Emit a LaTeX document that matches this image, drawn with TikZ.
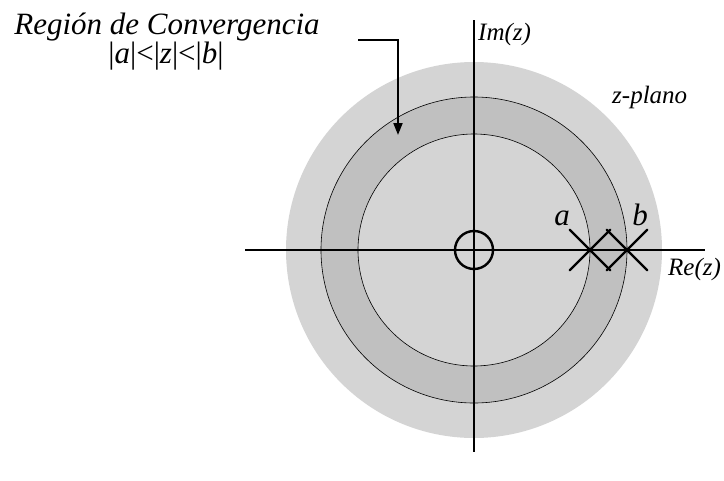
\documentclass[tikz,border=0pt]{standalone}
\usepackage{fontspec}
\setmainfont{Liberation Serif}
\usetikzlibrary{arrows.meta, shapes.misc}
\definecolor{discgray}{RGB}{212,212,212}
\definecolor{ringgray}{RGB}{192,192,192}
\tikzstyle{eje} = [line width=2.4pt]
\tikzstyle{borde} = [line width=0.6pt]
\tikzstyle{polo} = [cross out, draw, line width=2.4pt, line cap=round, minimum size=38pt, inner sep=0pt]
\tikzstyle{cero} = [circle, draw, line width=2.4pt, minimum size=38pt, inner sep=0pt]
\tikzstyle{etiqueta} = [font=\fontsize{25}{30}\selectfont\itshape, inner sep=0pt]
\tikzstyle{titulo} = [font=\fontsize{31}{36}\selectfont\itshape, inner sep=0pt]
\tikzstyle{arrow} = [line width=2pt, -{Triangle[length=12pt,width=9pt]}]

\begin{document}
\begin{tikzpicture}[x=1pt, y=-1pt]
  \useasboundingbox (0,0) rectangle (724,480);
  \coordinate (origen) at (474,250);
  % regiones
  \fill[discgray] (origen) circle (188);
  \fill[ringgray] (origen) circle (153);
  \fill[discgray] (origen) circle (116);
  \draw[borde] (origen) circle (153);
  \draw[borde] (origen) circle (116);

  % ejes
  \coordinate (re izq) at (245,250);
  \coordinate (re der) at (705,250);
  \coordinate (im arriba) at (474,20);
  \coordinate (im abajo) at (474,452);
  \draw[eje] (re izq) -- (re der);
  \draw[eje] (im arriba) -- (im abajo);

  \node[polo] (polo a) at (590,250) {};
  \node[polo] (polo b) at (627,250) {};
  \node[cero] (cero) at (origen) {};

  \node[etiqueta, anchor=base west] (im) at (478,40) {Im(z)};
  \node[etiqueta, anchor=base west] (re) at (668,275) {Re(z)};
  \node[etiqueta, anchor=base west] (plano) at (612,103) {z-plano};
  \node[titulo, anchor=base] (lbl a) at (562,225) {a};
  \node[titulo, anchor=base] (lbl b) at (640,225) {b};
  \node[titulo, anchor=base] (roc) at (167,34) {Región de Convergencia};
  \node[titulo, anchor=base] (desig) at (166,63) {\upshape|\textit{a}|<|\textit{z}|<|\textit{b}|};

  \coordinate (flecha ini) at (358,40);
  \coordinate (flecha fin) at (398,135);
  \draw[arrow] (flecha ini) -| (flecha fin);
\end{tikzpicture}
\end{document}
